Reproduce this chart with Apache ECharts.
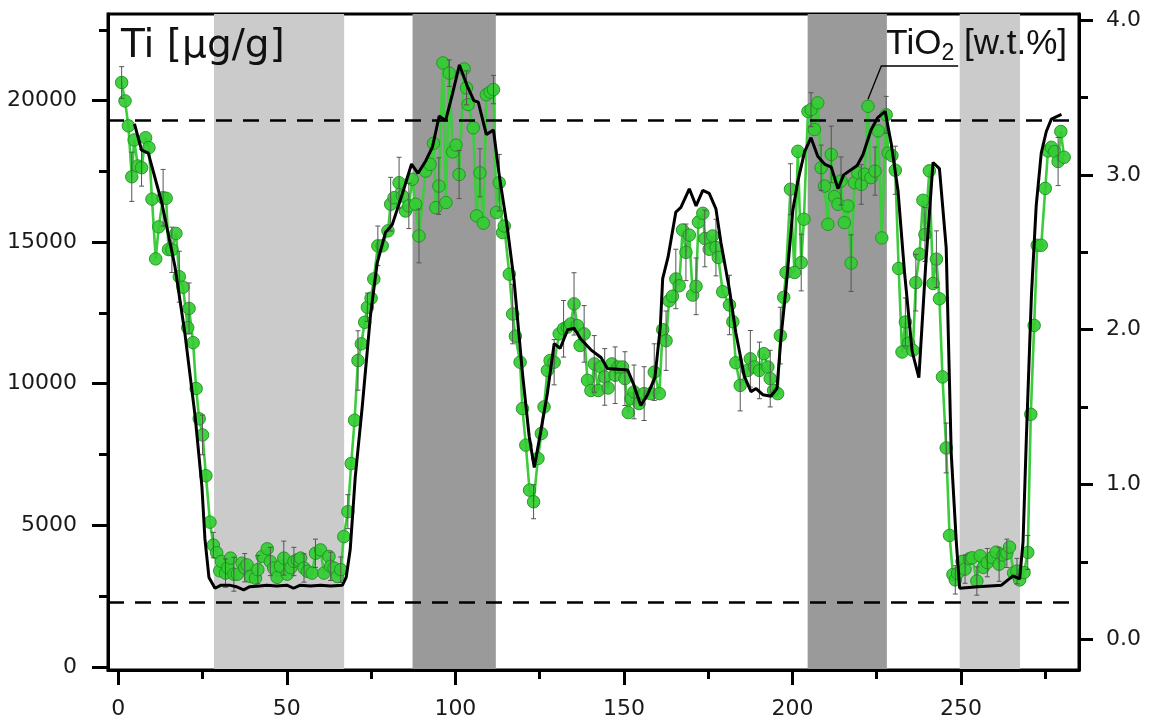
<!DOCTYPE html>
<html><head><meta charset="utf-8">
<script src="https://cdn.jsdelivr.net/npm/echarts@6/dist/echarts.min.js"></script>
<style>html,body{margin:0;padding:0;background:#fff}#c{width:1151px;height:720px}</style>
</head><body><div id="c"></div>
<script>
// ---- ticks ----
const xTicks = [0, 50, 100, 150, 200, 250];
const xMinorTicks = [25, 75, 125, 175, 225, 275];
const tiTicks = [0, 5000, 10000, 15000, 20000];
const tiMinorTicks = [2500, 7500, 12500, 17500, 22500];
const tio2Ticks = [0, 1, 2, 3, 4];
const tio2MinorTicks = [0.5, 1.5, 2.5, 3.5];
// ---- shaded intervals (x ranges) ----
const lightBands = [[28.4, 67.0], [249.6, 267.5]];
const darkBands = [[87.3, 112.0], [204.5, 228.0]];
// ---- TiO2 reference levels ----
const tio2Levels = [3.345, 0.24];
// ---- Ti [ug/g] : [x, value, error] ----
const tiData = [
[1.0,20640,560],[2.0,19990,0],[3.0,19110,0],[4.0,17310,870],[4.7,18610,0],[5.8,17690,0],[6.9,17630,650],[8.1,18690,0],[9.1,18340,0],[10.0,16520,0],[11.1,14410,0],[12.0,15540,0],[13.3,16570,1000],[14.2,16550,0],[14.9,14740,0],[15.9,14730,800],[17.1,15310,0],[18.1,13780,900],[19.2,13410,0],[20.6,11980,0],[21.0,12660,900],[22.2,11450,0],[23.1,9830,0],[24.0,8760,0],[25.0,8190,700],[26.0,6750,0],[27.2,5110,0],[28.2,4300,450],[29.2,4030,0],
[30.1,3390,0],[30.6,3720,0],[31.8,3310,500],[32.5,3500,0],[33.3,3840,0],[34.3,3270,600],[35.3,3270,0],[36.7,3660,0],[37.5,3500,500],[38.2,3600,0],[39.2,3190,0],[40.7,3130,0],[41.4,3430,500],[42.7,3900,0],[44.2,4170,0],[45.1,3720,500],[46.1,3490,0],[47.1,3160,0],[48.1,3550,0],[49.1,3840,600],[50.1,3270,0],[51.2,3500,0],[52.1,3720,500],[53.1,3780,0],[54.1,3840,0],[55.1,3490,500],[56.1,3370,0],[57.5,3310,0],[58.5,4010,500],[60.0,4130,0],[61.0,3310,0],[62.5,3900,0],[63.0,3550,500],[64.0,3490,0],[65.0,3190,0],[66.0,3430,450],[66.9,4600,0],[68.1,5480,600],
[69.1,7180,0],[70.1,8710,0],[71.1,10820,1050],[72.1,11410,0],[73.1,12170,0],[73.9,12700,500],[75.0,13020,0],[75.8,13700,0],[77.0,14870,700],[78.3,14870,0],[80.0,15400,0],[80.8,16340,950],[81.8,16570,0],[83.3,17100,900],[84.3,16630,0],[85.2,16100,0],[86.2,16280,800],[87.2,17220,0],[88.2,16340,0],[89.2,15220,950],[91.2,17510,0],[92.5,17750,0],[93.5,18490,0],[94.2,16220,0],[95.1,16980,1000],[96.3,21330,0],[97.2,16400,0],[98.2,20970,470],[99.2,18190,0],[100.2,18430,0],[101.1,17390,850],[102.6,21120,0],[103.3,20450,600],[103.8,19860,0],[105.3,19040,0],[106.3,15930,0],[107.3,17450,850],[108.3,15670,0],[109.2,20210,0],[110.3,20300,0],[111.3,20390,500],[112.2,16050,0],[113.0,17100,1000],[114.0,15340,0],[114.5,15570,0],[116.0,13870,0],[117.0,12460,1050],[117.8,11680,0],[119.2,10760,0],[119.9,9120,0],[120.9,7830,0],[122.0,6240,0],[123.2,5830,600],[124.5,7360,0],[125.5,8240,0],[126.3,9180,0],[127.3,10470,0],[128.1,10820,0],[129.3,10760,800],[130.8,11760,0],[132.1,11940,1000],[133.2,12000,0],[134.2,12110,0],[135.2,12820,1100],[136.2,12050,0],[137.0,11350,0],[138.2,11760,1000],[139.2,10120,0],[140.2,9760,0],[141.2,10700,1000],[142.4,9760,0],[143.2,10590,0],[144.3,10240,1000],[145.3,9850,0],[146.4,10700,0],[147.4,10300,1000],[148.3,10590,0],[149.6,10590,0],[150.3,10180,950],[151.3,8980,0],[152.1,9470,0],[153.0,9710,950],[154.5,9300,0],[156.0,9650,950],[158.0,9650,0],[159.0,10410,1000],[160.5,9650,0],[161.5,11910,0],[162.5,11520,1050],[163.4,12930,0],[164.4,13090,0],[165.4,13700,1050],[166.4,13460,0],[167.4,15430,0],[168.4,14640,1000],[169.4,15250,0],[170.4,13130,0],[171.4,13440,1000],[172.1,15710,0],[173.4,16020,0],[174.0,15130,1000],[175.3,14750,0],[176.3,15220,0],[177.3,14810,1000],[178.0,14460,0],[179.3,13250,0],[181.3,12780,1050],[182.3,12190,0],[183.2,10740,0],[184.5,9940,900],[186.7,10470,0],[187.5,10880,1000],[188.7,10590,0],[190.2,10470,1000],[191.5,11060,0],[192.7,10590,0],[193.4,10180,1000],[194.4,9760,0],[195.6,9650,0],[196.4,11700,1000],[197.4,13050,0],[198.1,13930,0],[199.4,16870,900],[200.6,13930,0],[201.6,18210,0],[202.6,14280,1000],[203.4,15810,0],[204.6,19620,0],[205.5,19680,600],[206.5,18980,0],[207.5,19920,0],[208.5,17630,800],[209.5,16980,0],[210.5,15630,0],[211.5,18100,1000],[212.5,16610,0],[213.5,16340,0],[214.4,17160,850],[215.4,15690,0],[216.4,16280,0],[217.4,14260,1000],[218.4,17100,0],[219.4,17450,0],[220.4,17040,700],[221.4,17400,0],[222.4,19800,0],[223.3,17280,0],[224.5,17510,850],[225.4,18930,0],[226.5,15150,0],[227.8,19500,650],[228.4,18150,0],[229.5,18060,0],[230.5,17540,850],[231.5,14070,0],[232.5,11120,0],[233.5,12180,850],[234.4,11430,0],[235.7,11180,0],[236.6,13570,1000],[237.7,14580,0],[238.7,16480,0],[239.3,15270,950],[240.6,17520,0],[241.7,13540,0],[242.7,14400,1000],[243.6,13000,0],[244.5,10240,0],[245.6,7730,880],[246.6,4640,0],[247.6,3260,0],[248.3,3070,500],[249.0,3300,0],
[250.3,3720,0],[251.2,3450,500],[252.5,3820,0],[253.3,3850,0],[254.7,3030,500],[255.7,3920,0],[256.6,3510,0],[257.8,3680,500],[259.2,3860,0],[260.4,4050,0],[261.3,3620,600],[262.5,3950,0],[263.6,4010,500],[264.4,4230,0],[265.6,3320,0],[266.6,3380,450],[267.4,3070,0],[268.7,3330,0],[269.8,4040,600],[270.7,8920,0],[271.7,12060,0],[272.6,14890,0],[273.8,14890,0],[275.0,16900,0],[275.8,18220,0],[276.8,18350,0],[277.8,18200,0],[278.8,17850,850],[279.6,18910,0],[280.6,18000,0]
];
// ---- TiO2 [wt.%] : [x, value] ----
const tio2Data = [
[4.8,3.33],[6.9,3.16],[8.9,3.14],[12.9,2.82],[16.8,2.41],[19.8,1.97],[22.8,1.44],[24.8,0.99],[25.7,0.65],[26.9,0.40],[28.7,0.33],[30.5,0.35],[33.0,0.35],[35.0,0.34],[37.2,0.32],[39.0,0.34],[42.0,0.345],[44.0,0.35],[47.0,0.345],[50.0,0.35],[52.0,0.33],[54.0,0.35],[57.0,0.345],[60.0,0.35],[63.0,0.345],[66.5,0.35],[67.6,0.40],[68.8,0.58],[70.3,1.05],[72.4,1.51],[74.8,2.09],[76.8,2.43],[79.3,2.63],[81.3,2.68],[84.3,2.88],[87.0,3.07],[88.9,3.01],[91.2,3.09],[93.2,3.18],[95.2,3.38],[97.1,3.35],[99.1,3.52],[101.2,3.71],[103.4,3.58],[105.5,3.48],[106.8,3.47],[109.2,3.26],[111.3,3.29],[113.0,3.00],[115.4,2.66],[117.4,2.32],[119.9,1.72],[121.9,1.31],[123.4,1.11],[125.3,1.34],[127.3,1.59],[129.3,1.91],[131.1,1.88],[133.3,2.00],[135.2,2.01],[137.2,1.94],[140.2,1.87],[143.2,1.82],[145.1,1.75],[151.1,1.74],[153.0,1.64],[155.0,1.51],[157.0,1.58],[159.2,1.69],[160.8,2.02],[161.5,2.33],[163.1,2.47],[165.4,2.76],[166.9,2.79],[169.4,2.91],[171.4,2.80],[173.4,2.90],[175.3,2.88],[177.3,2.78],[178.8,2.56],[181.3,2.26],[183.2,1.98],[185.7,1.70],[187.7,1.60],[189.2,1.62],[191.2,1.58],[193.6,1.57],[195.4,1.62],[196.6,1.95],[198.1,2.27],[200.1,2.77],[201.6,2.96],[203.6,3.15],[205.5,3.24],[207.5,3.12],[209.5,3.07],[211.5,3.05],[213.5,2.91],[215.2,3.00],[219.2,3.06],[220.9,3.13],[223.3,3.29],[225.3,3.37],[227.5,3.41],[229.3,3.20],[231.3,2.90],[233.2,2.38],[235.5,1.86],[237.5,1.69],[239.5,2.41],[241.7,3.08],[243.6,3.04],[245.6,2.53],[247.1,1.20],[248.6,0.63],[249.6,0.33],[255.0,0.34],[262.0,0.35],[265.4,0.41],[267.4,0.39],[268.4,0.63],[269.4,1.31],[270.9,2.23],[272.3,2.80],[273.8,3.14],[275.3,3.28],[276.8,3.36],[279.8,3.39]
];
const leaderPoint = [222.4, 19800];

const FONT = '"DejaVu Sans", sans-serif';
const chart = echarts.init(document.getElementById('c'), null, {renderer: 'canvas'});

function mkXAxis(ticks, len, labels) {
  return {
    type: 'value', min: -3.05, max: 285, position: 'bottom', gridIndex: 0,
    axisLine: {show: labels, onZero: false, lineStyle: {color: '#000', width: 3}},
    axisTick: {show: true, customValues: ticks, length: len, lineStyle: {color: '#000', width: 3}},
    axisLabel: labels ? {show: true, customValues: ticks, fontSize: 22, fontFamily: FONT, color: '#1a1a1a', margin: 28} : {show: false},
    splitLine: {show: false}
  };
}
function mkYAxis(pos, min, max, ticks, len, labels, fmt) {
  return {
    type: 'value', min: min, max: max, position: pos, gridIndex: 0,
    axisLine: {show: labels, onZero: false, lineStyle: {color: '#000', width: 3}},
    axisTick: {show: true, customValues: ticks, length: len, lineStyle: {color: '#000', width: 3}},
    axisLabel: labels ? {show: true, customValues: ticks, fontSize: 22, fontFamily: FONT, color: '#1a1a1a', margin: pos === 'left' ? 31 : 27, formatter: fmt} : {show: false},
    splitLine: {show: false}
  };
}

const bandItems = lightBands.map(b => ({value: b, c: '#cbcbcb'})).concat(darkBands.map(b => ({value: b, c: '#9a9a9a'})));

const option = {
  animation: false,
  backgroundColor: '#fff',
  grid: {left: 108, right: 72, top: 14, bottom: 47.5, show: true, borderColor: '#000', borderWidth: 3, backgroundColor: 'transparent'},
  xAxis: [mkXAxis(xTicks, 15, true), mkXAxis(xMinorTicks, 9, false)],
  yAxis: [
    mkYAxis('left', -113, 23060, tiTicks, 16, true, v => String(v)),
    mkYAxis('left', -113, 23060, tiMinorTicks, 9, false),
    mkYAxis('right', -0.198, 4.039, tio2Ticks, 14, true, v => v.toFixed(1)),
    mkYAxis('right', -0.198, 4.039, tio2MinorTicks, 9, false)
  ],
  series: [
    {
      type: 'custom', xAxisIndex: 0, yAxisIndex: 0, z: 0, silent: true,
      data: bandItems.map(b => ({value: b.value, itemStyle: {color: b.c}})),
      renderItem: function (params, api) {
        const cs = params.coordSys;
        const p0 = api.coord([api.value(0), 0]);
        const p1 = api.coord([api.value(1), 0]);
        return {type: 'rect', shape: {x: p0[0], y: cs.y, width: p1[0] - p0[0], height: cs.height},
          style: {fill: api.visual('color')}};
      }
    },
    {
      type: 'line', name: 'Ti', xAxisIndex: 0, yAxisIndex: 0, z: 3,
      data: tiData.map(d => [d[0], d[1]]),
      symbol: 'circle', symbolSize: 12.5, showAllSymbol: true,
      itemStyle: {color: '#33cc33', borderColor: '#1f931f', borderWidth: 1, opacity: 0.92},
      lineStyle: {color: '#3ccc3c', width: 2.6}
    },
    {
      type: 'custom', xAxisIndex: 0, yAxisIndex: 0, z: 4, silent: true,
      data: tiData.filter(d => d[2] > 0).map(d => [d[0], d[1] - d[2], d[1] + d[2]]),
      renderItem: function (params, api) {
        const lo = api.coord([api.value(0), api.value(1)]);
        const hi = api.coord([api.value(0), api.value(2)]);
        const w = 2.5;
        const st = {stroke: '#555', lineWidth: 1};
        return {type: 'group', children: [
          {type: 'line', shape: {x1: lo[0], y1: lo[1], x2: hi[0], y2: hi[1]}, style: st},
          {type: 'line', shape: {x1: lo[0] - w, y1: lo[1], x2: lo[0] + w, y2: lo[1]}, style: st},
          {type: 'line', shape: {x1: hi[0] - w, y1: hi[1], x2: hi[0] + w, y2: hi[1]}, style: st}
        ]};
      }
    },
    {
      type: 'line', name: 'TiO2', xAxisIndex: 0, yAxisIndex: 2, z: 5,
      data: tio2Data, symbol: 'none',
      lineStyle: {color: '#000', width: 3},
      markLine: {
        silent: true, symbol: ['none', 'none'], label: {show: false},
        lineStyle: {color: '#000', width: 2.5, type: [16, 11]},
        data: tio2Levels.map(v => ({yAxis: v}))
      }
    }
  ]
};
chart.setOption(option);

// titles
const cv = document.createElement('canvas').getContext('2d');
function tw(t, f) { cv.font = f; return cv.measureText(t).width; }
const RF = '"Liberation Sans", Arial, sans-serif';
const fBig = '35px ' + RF, fSub = '23px ' + RF;
const wTail = tw(' [w.t.%]', fBig), wSub = tw('2', fSub), wHead = tw('TiO', fBig);
const rightEnd = 1067;
const xTail = rightEnd - wTail, xSub = xTail - wSub, xHead = xSub - wHead;
const lp = chart.convertToPixel({xAxisIndex: 0, yAxisIndex: 0}, leaderPoint);
const ulY = 66;

chart.setOption({
  graphic: [
    {type: 'text', x: 121, y: 47, z: 10, style: {text: 'Ti [μg/g]', font: '39px ' + FONT, fill: '#111', align: 'left', verticalAlign: 'middle'}},
    {type: 'text', x: xHead, y: 44, z: 10, style: {text: 'TiO', font: fBig, fill: '#111', align: 'left', verticalAlign: 'middle'}},
    {type: 'text', x: xSub, y: 54, z: 10, style: {text: '2', font: fSub, fill: '#111', align: 'left', verticalAlign: 'middle'}},
    {type: 'text', x: xTail, y: 44, z: 10, style: {text: ' [w.t.%]', font: fBig, fill: '#111', align: 'left', verticalAlign: 'middle'}},
    {type: 'polyline', z: 10, shape: {points: [[xHead + wHead + wSub + 4, ulY], [xHead - 5, ulY], [lp[0], lp[1] - 7]]}, style: {stroke: '#000', lineWidth: 1.3, fill: null}}
  ]
});
</script></body></html>
